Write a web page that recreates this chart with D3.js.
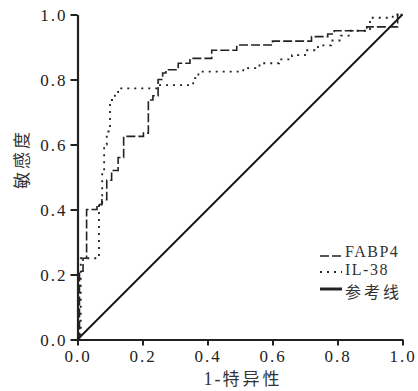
<!DOCTYPE html>
<html lang="zh">
<head>
<meta charset="UTF-8">
<title>ROC</title>
<script src="https://d3js.org/d3.v7.min.js"></script>
<style>
  body { margin: 0; background: #fff; }
</style>
</head>
<body>
<div id="chart"></div>
<script>
// tick values
const ticks = [0, 0.2, 0.4, 0.6, 0.8, 1.0];

// FABP4 ROC step vertices (1-specificity, sensitivity)
const fabp4Fpr = [0, 0.006, 0.006, 0.017, 0.017, 0.028, 0.028, 0.06, 0.06, 0.075, 0.075, 0.09, 0.09, 0.105, 0.105, 0.125, 0.125, 0.142, 0.142, 0.203, 0.203, 0.218, 0.218, 0.232, 0.232, 0.248, 0.248, 0.262, 0.262, 0.272, 0.272, 0.31, 0.31, 0.346, 0.346, 0.413, 0.413, 0.49, 0.49, 0.60, 0.60, 0.72, 0.72, 0.77, 0.77, 0.79, 0.79, 0.89, 0.89, 0.985, 0.985, 1];
const fabp4Tpr = [0, 0, 0.21, 0.21, 0.25, 0.25, 0.40, 0.40, 0.415, 0.415, 0.43, 0.43, 0.49, 0.49, 0.52, 0.52, 0.56, 0.56, 0.625, 0.625, 0.635, 0.635, 0.737, 0.737, 0.75, 0.75, 0.80, 0.80, 0.82, 0.82, 0.83, 0.83, 0.85, 0.85, 0.865, 0.865, 0.89, 0.89, 0.906, 0.906, 0.918, 0.918, 0.932, 0.932, 0.94, 0.94, 0.95, 0.95, 0.962, 0.962, 1.0, 1.0];

// IL-38 ROC step vertices
const il38Fpr = [0, 0.01, 0.01, 0.066, 0.066, 0.076, 0.076, 0.082, 0.082, 0.09, 0.09, 0.1, 0.1, 0.115, 0.115, 0.125, 0.125, 0.244, 0.244, 0.356, 0.356, 0.372, 0.372, 0.51, 0.51, 0.56, 0.56, 0.62, 0.62, 0.66, 0.66, 0.70, 0.70, 0.74, 0.74, 0.78, 0.78, 0.81, 0.81, 0.84, 0.84, 0.90, 0.90, 0.97, 0.97, 1];
const il38Tpr = [0, 0, 0.25, 0.25, 0.42, 0.42, 0.52, 0.52, 0.60, 0.60, 0.64, 0.64, 0.737, 0.737, 0.757, 0.757, 0.773, 0.773, 0.783, 0.783, 0.804, 0.804, 0.824, 0.824, 0.835, 0.835, 0.85, 0.85, 0.862, 0.862, 0.875, 0.875, 0.89, 0.89, 0.905, 0.905, 0.92, 0.92, 0.935, 0.935, 0.95, 0.95, 0.99, 0.99, 1.0, 1.0];

// reference line
const refFpr = [0, 1];
const refTpr = [0, 1];

const legendLabels = ["FABP4", "IL-38", "参考线"];

const SERIF = "'Liberation Serif', 'Times New Roman', 'DejaVu Serif', serif";
const CJK = "'Noto Sans CJK SC', sans-serif";

const W = 418, H = 391;
const margin = {top: 14.5, left: 77.5};
const size = 325;

const svg = d3.select("#chart").append("svg")
  .attr("width", W).attr("height", H);

const g = svg.append("g")
  .attr("transform", `translate(${margin.left},${margin.top})`);

const x = d3.scaleLinear().domain([0, 1]).range([0, size]);
const y = d3.scaleLinear().domain([0, 1]).range([size, 0]);

const line = d3.line().x(d => x(d[0])).y(d => y(d[1]));
const zip = (a, b) => a.map((v, i) => [v, b[i]]);

// axes
const xAxis = g.append("g")
  .attr("transform", `translate(0,${size})`)
  .call(d3.axisBottom(x).tickValues(ticks).tickFormat(d3.format(".1f"))
    .tickSize(6).tickSizeOuter(0).tickPadding(4));
const yAxis = g.append("g")
  .call(d3.axisLeft(y).tickValues(ticks).tickFormat(d3.format(".1f"))
    .tickSize(7).tickSizeOuter(0).tickPadding(3));

[xAxis, yAxis].forEach(a => {
  a.attr("font-family", SERIF).attr("font-size", 17);
  a.select(".domain").attr("stroke", "#222").attr("stroke-width", 2.2);
  a.selectAll(".tick line").attr("stroke", "#222").attr("stroke-width", 2);
  a.selectAll(".tick text").attr("fill", "#222")
    .style("font-family", SERIF).style("letter-spacing", "2px");
});
yAxis.selectAll(".tick text").attr("dy", "0.36em");

// curves
g.append("path")
  .datum(zip(refFpr, refTpr))
  .attr("d", line)
  .attr("fill", "none").attr("stroke", "#111").attr("stroke-width", 1.8);

g.append("path")
  .datum(zip(il38Fpr, il38Tpr))
  .attr("d", line)
  .attr("fill", "none").attr("stroke", "#222").attr("stroke-width", 1.8)
  .attr("stroke-dasharray", "2,5");

g.append("path")
  .datum(zip(fabp4Fpr, fabp4Tpr))
  .attr("d", line)
  .attr("fill", "none").attr("stroke", "#222").attr("stroke-width", 1.6)
  .attr("stroke-dasharray", "9,3");

// axis titles
svg.append("text")
  .attr("transform", "translate(28,159) rotate(-90)")
  .attr("text-anchor", "middle")
  .style("font-family", CJK)
  .style("font-size", "17px")
  .style("letter-spacing", "3px")
  .attr("fill", "#333")
  .text("敏感度");

svg.append("text")
  .attr("x", 243).attr("y", 385)
  .attr("text-anchor", "middle")
  .style("font-family", SERIF)
  .style("font-size", "18px")
  .style("letter-spacing", "2px")
  .attr("fill", "#333")
  .call(t => {
    t.append("tspan").text("1-");
    t.append("tspan").style("font-family", CJK).style("font-size", "17px")
      .style("letter-spacing", "3px").text("特异性");
  });

// legend
const legend = svg.append("g");
const rows = [
  {yText: 257, yLine: 256, dash: "9,3", w: 1.6},
  {yText: 275, yLine: 272, dash: "2,5", w: 1.8},
  {yText: 298, yLine: 289, dash: null, w: 3}
];
rows.forEach((r, i) => {
  legend.append("line")
    .attr("x1", 320).attr("x2", 342)
    .attr("y1", r.yLine).attr("y2", r.yLine)
    .attr("stroke", "#222").attr("stroke-width", r.w)
    .attr("stroke-dasharray", r.dash);
  legend.append("text")
    .attr("x", 345).attr("y", r.yText)
    .style("font-family", i < 2 ? SERIF : CJK)
    .style("font-size", i < 2 ? "16px" : "16px")
    .style("letter-spacing", i < 2 ? "1.5px" : "3px")
    .attr("fill", "#333")
    .text(legendLabels[i]);
});
</script>
</body>
</html>
